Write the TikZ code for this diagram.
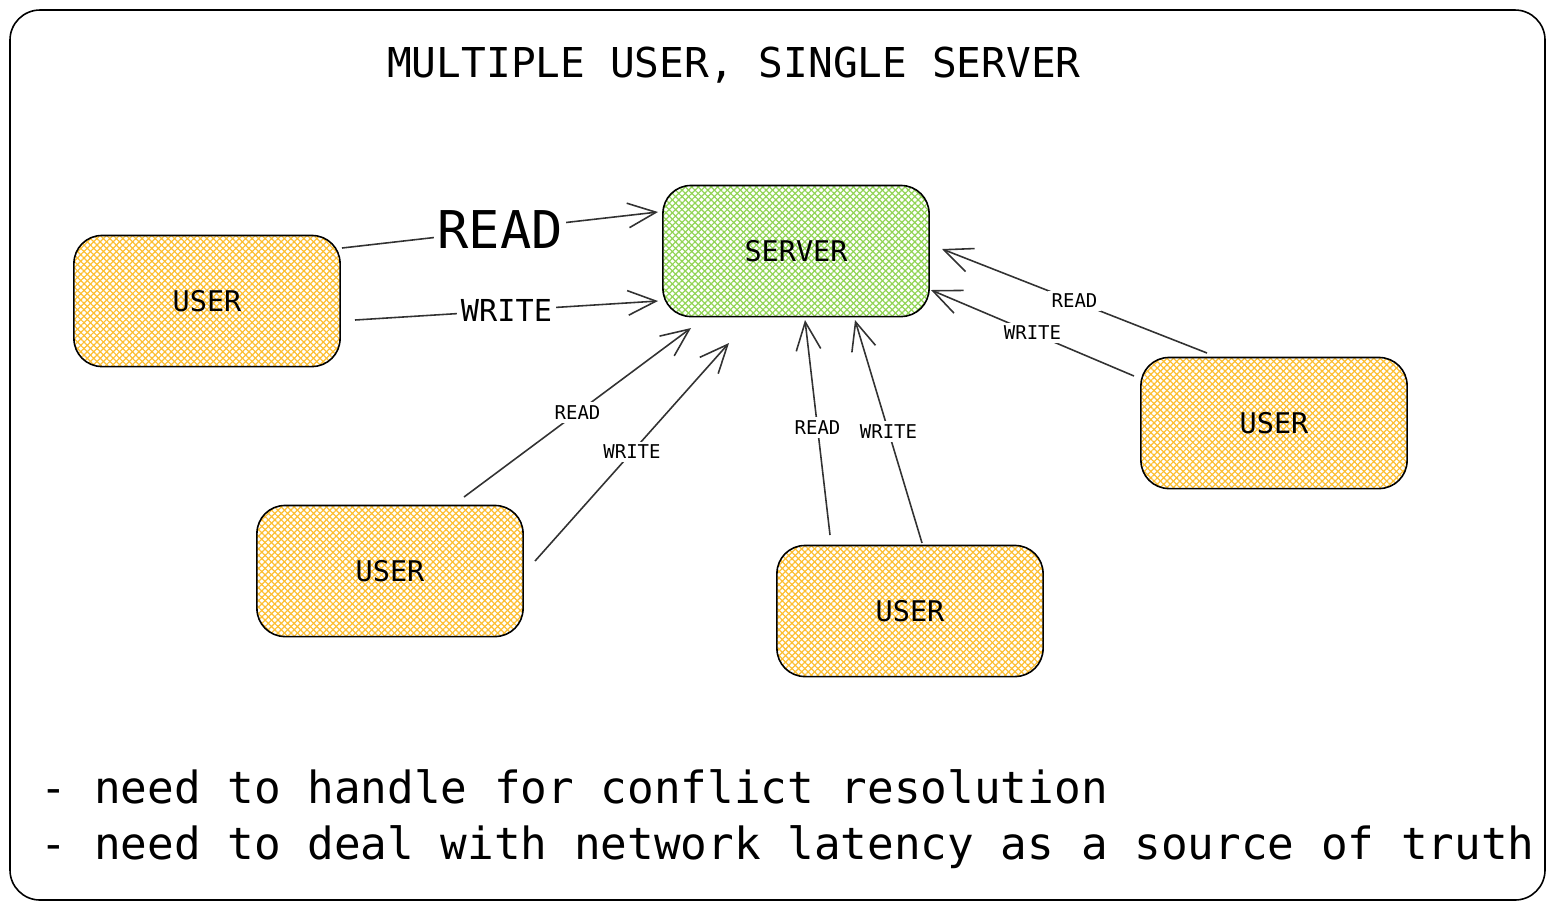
\documentclass[tikz,border=0pt]{standalone}
\usepackage{fontspec}
\setmainfont{DejaVu Sans Mono}
\usepackage{tikz}
\usetikzlibrary{calc,arrows.meta,patterns.meta}
\definecolor{userhatch}{RGB}{252,190,50}
\definecolor{serverhatch}{RGB}{145,212,85}
\definecolor{flowgrey}{RGB}{50,50,50}

\begin{document}
\begin{tikzpicture}[x=0.01cm,y={(0,-0.01cm)},
		hatched/.style={draw=black, line width=0.45pt, rounded corners=0.28cm,
			minimum width=2.66cm, minimum height=1.31cm, font=\fontsize{8.1}{10}\selectfont,
			preaction={pattern={Lines[angle=45,distance=1.3pt,line width=0.35pt]}, pattern color=#1},
			pattern={Lines[angle=-45,distance=1.3pt,line width=0.35pt]}, pattern color=#1},
		userbox/.style={hatched=userhatch},
		serverbox/.style={hatched=serverhatch},
		flow/.style={draw=flowgrey, line width=0.45pt, -{Straight Barb[length=8pt,width=7pt]}},
		lbl/.style={fill=white, inner sep=1pt, font=\fontsize{5.4}{7}\selectfont}
	]
		\useasboundingbox (0,0) rectangle (1555,911);
		\draw[line width=0.45pt, rounded corners=0.3cm] (10,10) rectangle (1545,900);
		\node[anchor=base, font=\fontsize{11.7}{14}\selectfont] (title) at (734,77) {MULTIPLE USER, SINGLE SERVER};
		% boxes
		\node[serverbox] (server) at (796,251) {SERVER};
		\node[userbox] (u1) at (207,301) {USER};
		\node[userbox] (u2) at (390,571) {USER};
		\node[userbox] (u3) at (910,611) {USER};
		\node[userbox] (u4) at (1274,423) {USER};
		% flows
		\draw[flow] ($(u1)+(135,-53)$) -- node[lbl, font=\fontsize{14.8}{17}\selectfont] {READ} ($(server)+(-138,-39)$);
		\draw[flow] ($(u1)+(148,19)$) -- node[lbl, font=\fontsize{8.6}{10}\selectfont] {WRITE} ($(server)+(-138,50)$);
		\draw[flow] ($(u2)+(74,-74)$) -- node[lbl] {READ} ($(server)+(-105,77)$);
		\draw[flow] ($(u2)+(145,-10)$) -- node[lbl] {WRITE} ($(server)+(-67,92)$);
		\draw[flow] ($(u3)+(-80,-76)$) -- node[lbl] {READ} ($(server)+(9,69)$);
		\draw[flow] ($(u3)+(12,-68)$) -- node[lbl] {WRITE} ($(server)+(59,69)$);
		\draw[flow] ($(u4)+(-67,-70)$) -- node[lbl] {READ} ($(server)+(146,-2)$);
		\draw[flow] ($(u4)+(-140,-47)$) -- node[lbl] {WRITE} ($(server)+(135,39)$);
		% notes
		\node[anchor=base west, inner sep=0pt, font=\fontsize{12.6}{15}\selectfont] (note1) at (40,803) {- need to handle for conflict resolution};
		\node[anchor=base west, inner sep=0pt, font=\fontsize{12.6}{15}\selectfont] (note2) at (40,859) {- need to deal with network latency as a source of truth};
\end{tikzpicture}
\end{document}
